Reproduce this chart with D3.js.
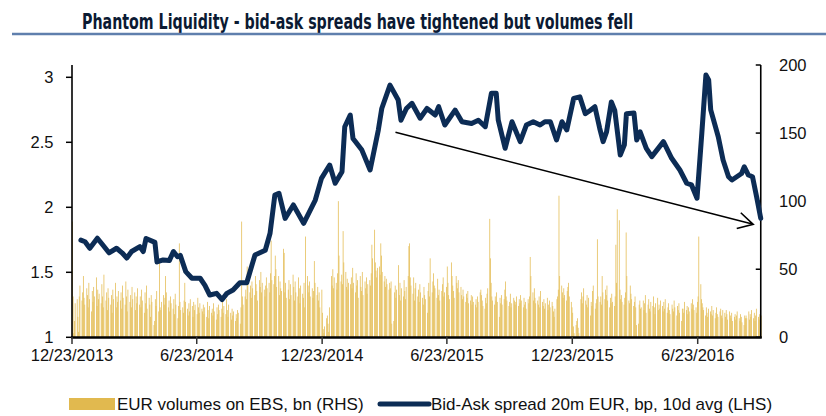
<!DOCTYPE html>
<html><head><meta charset="utf-8">
<script src="https://cdn.jsdelivr.net/npm/d3@7"></script>
<style>
html,body{margin:0;padding:0;background:#fff;}
svg{display:block;}
</style></head>
<body>
<svg id="chart" width="826" height="416"></svg>
<script>
const titleText = "Phantom Liquidity - bid-ask spreads have tightened but volumes fell";
const legendLabels = ["EUR volumes on EBS, bn (RHS)", "Bid-Ask spread 20m EUR, bp, 10d avg (LHS)"];
const xTickDates = ["2013-12-23","2014-06-23","2014-12-23","2015-06-23","2015-12-23","2016-06-23"];
const xTickLabels = ["12/23/2013","6/23/2014","12/23/2014","6/23/2015","12/23/2015","6/23/2016"];
const leftTicks = [1, 1.5, 2, 2.5, 3];
const leftTickLabels = ["1","1.5","2","2.5","3"];
const rightTicks = [0, 50, 100, 150, 200];

// Business-day volumes (bn), one row per month, from 2013-12-23 to 2016-09-23
const volStart = "2013-12-23", volEnd = "2016-09-23";
const volumes = [
 85,30,3,12,25,28,15,
 4,30,38,27,33,45,29,24,36,31,22,40,28,19,34,26,37,30,44,23,35,28,32,
 25,39,30,22,46,27,33,20,36,29,24,31,18,35,28,40,22,30,26,34,
 27,33,21,38,29,24,41,30,19,35,26,31,22,37,28,33,20,30,25,36,24,
 30,22,35,27,18,33,25,38,21,29,24,15,31,26,9,12,28,23,34,19,57,22,
 20,26,31,24,29,45,33,22,27,19,30,25,21,28,17,32,24,14,23,69,26,20,
 22,18,27,40,26,21,16,25,19,28,23,15,26,20,24,17,29,22,18,25,21,
 19,24,17,22,15,26,20,14,23,18,21,16,25,19,13,22,17,24,20,15,21,27,18,
 23,17,28,20,15,24,18,13,21,16,19,12,17,14,20,18,10,22,85,30,24,
 30,35,28,52,44,33,38,29,41,36,31,45,39,34,27,42,37,48,33,40,35,30,
 38,44,36,40,33,47,71,42,39,45,60,50,37,45,31,41,36,34,65,62,33,40,29,
 35,42,28,39,31,46,37,27,41,33,30,44,36,25,38,32,29,40,22,74,
 45,38,33,41,30,36,29,34,56,40,31,37,27,33,22,35,18,6,3,8,14,16,10,
 4,22,45,38,50,36,44,40,35,47,100,60,41,46,39,78,55,48,37,43,35,40,
 39,44,36,51,40,33,47,38,42,29,45,37,34,48,31,41,36,44,32,39,
 42,38,47,68,58,79,55,49,44,51,52,46,69,60,48,41,45,37,43,39,35,40,
 36,41,10,12,33,38,29,35,53,31,40,27,36,30,42,34,28,37,45,67,69,44,
 38,32,44,27,36,40,30,35,26,39,33,29,24,37,31,28,18,34,40,30,58,
 33,41,47,38,36,29,43,31,35,27,34,39,44,30,33,37,52,40,31,28,55,45,
 38,34,29,45,40,36,42,33,37,31,28,35,30,26,32,29,34,25,27,31,24,30,26,
 24,28,22,30,26,33,35,31,27,23,21,29,25,32,36,87,58,40,30,27,24,
 30,27,33,26,15,29,25,31,24,28,35,41,30,27,23,26,32,22,25,29,27,24,
 26,30,23,28,25,31,27,22,29,24,26,21,28,25,30,59,45,33,27,36,29,25,
 27,24,30,22,34,26,23,28,21,25,29,20,24,27,22,26,23,19,15,21,28,
 30,35,104,45,38,33,29,36,31,27,34,37,40,30,26,22,18,8,3,9,12,14,7,
 3,28,33,25,30,36,27,24,31,22,29,16,26,23,34,38,21,25,28,72,30,
 26,30,24,45,33,28,35,31,38,27,22,29,25,32,26,23,30,68,40,94,86,
 35,28,31,26,24,29,33,77,45,27,25,38,32,28,23,26,30,22,9,10,24,27,21,
 22,27,20,25,31,18,24,28,21,19,26,23,30,22,17,25,29,20,24,21,27,
 23,19,26,21,28,18,22,25,20,17,24,21,19,27,22,16,23,20,25,18,12,21,
 21,18,26,20,23,17,22,19,25,21,28,24,20,22,18,26,30,74,39,28,25,22,
 20,16,22,18,15,21,19,17,23,16,20,14,18,22,17,15,19,21,16,14,20,
 18,15,20,17,13,19,16,14,18,12,15,17,13,16,19,14,12,17,15,11,9,16,14,
 16,14,19,13,17,15,20,14,18,12,16,21,15,13,17,19,16
];

// Bid-ask spread, 10d avg (bp, LHS)
const spreadDates = [
 "2014-01-05","2014-01-11","2014-01-18","2014-01-29","2014-02-06","2014-02-15","2014-02-26","2014-03-06","2014-03-13","2014-03-20",
 "2014-04-01","2014-04-06","2014-04-10","2014-04-23","2014-04-26","2014-05-05","2014-05-14","2014-05-20","2014-05-26","2014-05-30",
 "2014-06-07","2014-06-16","2014-06-28","2014-07-05","2014-07-12","2014-07-22","2014-07-30","2014-08-06","2014-08-15","2014-08-25",
 "2014-09-04","2014-09-16","2014-10-01","2014-10-08","2014-10-15","2014-10-21","2014-10-30","2014-11-11","2014-11-26","2014-12-13",
 "2014-12-22","2015-01-03","2015-01-11","2015-01-21","2015-01-25","2015-02-02","2015-02-06","2015-02-19","2015-03-03","2015-03-15",
 "2015-03-20","2015-04-01","2015-04-13","2015-04-17","2015-04-25","2015-05-03","2015-05-15","2015-05-25","2015-06-06","2015-06-11",
 "2015-06-20","2015-07-05","2015-07-15","2015-07-29","2015-08-08","2015-08-18","2015-08-27","2015-09-03","2015-09-06","2015-09-16",
 "2015-09-26","2015-10-08","2015-10-17","2015-10-27","2015-11-06","2015-11-13","2015-11-21","2015-11-30","2015-12-08","2015-12-15",
 "2015-12-25","2016-01-03","2016-01-11","2016-01-18","2016-01-25","2016-02-01","2016-02-06","2016-02-11","2016-02-18","2016-02-23",
 "2016-03-02","2016-03-08","2016-03-11","2016-03-22","2016-03-26","2016-03-31","2016-04-09","2016-04-17","2016-05-04","2016-05-16",
 "2016-05-28","2016-06-07","2016-06-14","2016-06-22","2016-06-29","2016-07-05","2016-07-09","2016-07-12","2016-07-23","2016-07-30",
 "2016-08-07","2016-08-12","2016-08-19","2016-08-26","2016-08-30","2016-09-05","2016-09-11","2016-09-17","2016-09-23"
];
const spreadValues = [
 1.747,1.735,1.685,1.762,1.71,1.65,1.685,1.65,1.61,1.66,
 1.697,1.66,1.76,1.73,1.58,1.595,1.59,1.66,1.62,1.63,
 1.505,1.454,1.454,1.40,1.325,1.338,1.29,1.338,1.364,1.42,
 1.42,1.633,1.67,1.80,2.095,2.108,1.915,2.018,1.877,2.056,
 2.223,2.325,2.185,2.274,2.62,2.71,2.53,2.44,2.287,2.595,
 2.76,2.94,2.825,2.67,2.76,2.80,2.685,2.76,2.71,2.774,
 2.633,2.748,2.658,2.645,2.67,2.62,2.877,2.877,2.67,2.454,
 2.658,2.505,2.633,2.658,2.633,2.658,2.658,2.518,2.658,2.595,
 2.838,2.85,2.72,2.745,2.774,2.608,2.505,2.58,2.81,2.745,
 2.402,2.48,2.72,2.725,2.518,2.58,2.454,2.39,2.505,2.377,
 2.287,2.185,2.172,2.07,2.57,3.018,2.98,2.75,2.543,2.364,
 2.235,2.21,2.235,2.26,2.312,2.248,2.235,2.08,1.915
];

// Trend arrow annotation (date, LHS value)
const arrowDates = ["2015-04-09","2016-09-12"];
const arrowValues = [2.577, 1.869];

const parse = d3.utcParse("%Y-%m-%d");
const svg = d3.select("#chart");

const x = d3.scaleUtc().domain([parse(xTickDates[0]), parse(xTickDates[5])]).range([72, 697.7]);
const yL = d3.scaleLinear().domain([1, 3]).range([337.3, 77.3]);
const yR = d3.scaleLinear().domain([0, 200]).range([337.3, 65]);
const xEnd = x(parse(volEnd));

// Title
svg.append("text").attr("x", 82).attr("y", 28.5)
  .attr("font-family", "'Liberation Sans Narrow','DejaVu Sans Condensed','Liberation Sans',sans-serif")
  .attr("font-weight", "bold").attr("font-size", 21).attr("fill", "#0b1a33")
  .attr("textLength", 551).attr("lengthAdjust", "spacingAndGlyphs")
  .text(titleText);
svg.append("line").attr("x1", 12).attr("x2", 826).attr("y1", 34).attr("y2", 34)
  .attr("stroke", "#5f7fad").attr("stroke-width", 2.5);

// Bars
const allDays = d3.utcDay.range(parse(volStart), d3.utcDay.offset(parse(volEnd), 1))
  .filter(d => d.getUTCDay() !== 0 && d.getUTCDay() !== 6);
const barData = allDays.slice(0, volumes.length).map((d, i) => ({d, v: volumes[i]}));
svg.append("g").selectAll("rect").data(barData).join("rect")
  .attr("x", d => x(d.d))
  .attr("width", 0.8)
  .attr("y", d => yR(d.v))
  .attr("height", d => yR(0) - yR(d.v))
  .attr("fill", "#e5bf5a");

// Axes
const fontFam = "'Liberation Sans',Arial,sans-serif";
const axes = svg.append("g").attr("font-family", fontFam).attr("font-size", 16.5).attr("fill", "#111");
// left
axes.append("line").attr("x1", 72).attr("x2", 72).attr("y1", 65).attr("y2", 338).attr("stroke", "#000").attr("stroke-width", 1.6);
leftTicks.forEach((t, i) => {
  axes.append("line").attr("x1", 66).attr("x2", 72).attr("y1", yL(t)).attr("y2", yL(t)).attr("stroke", "#000").attr("stroke-width", 1.5);
  axes.append("text").attr("x", 53.5).attr("y", yL(t)).attr("dy", "0.36em").attr("text-anchor", "end").text(leftTickLabels[i]);
});
// right
axes.append("line").attr("x1", xEnd).attr("x2", xEnd).attr("y1", 65).attr("y2", 338).attr("stroke", "#000").attr("stroke-width", 1.6);
rightTicks.forEach(t => {
  axes.append("line").attr("x1", xEnd - 5).attr("x2", xEnd).attr("y1", yR(t)).attr("y2", yR(t)).attr("stroke", "#000").attr("stroke-width", 1.5);
  axes.append("text").attr("x", 779).attr("y", yR(t)).attr("dy", "0.36em").attr("text-anchor", "start").text(t);
});
// bottom
axes.append("line").attr("x1", 71).attr("x2", xEnd + 1).attr("y1", 337.5).attr("y2", 337.5).attr("stroke", "#000").attr("stroke-width", 2.5);
xTickDates.forEach((t, i) => {
  const px = x(parse(t));
  axes.append("line").attr("x1", px).attr("x2", px).attr("y1", 337).attr("y2", 344).attr("stroke", "#333").attr("stroke-width", 1.5);
  axes.append("text").attr("x", px).attr("y", 361).attr("text-anchor", "middle").text(xTickLabels[i]);
});

// Trend arrow
const ax0 = x(parse(arrowDates[0])), ay0 = yL(arrowValues[0]);
const ax1 = x(parse(arrowDates[1])), ay1 = yL(arrowValues[1]);
const ang = Math.atan2(ay1 - ay0, ax1 - ax0);
const hl = 17, ha = 0.5;
svg.append("path")
  .attr("d", `M${ax0},${ay0}L${ax1},${ay1}M${ax1 - hl*Math.cos(ang - ha)},${ay1 - hl*Math.sin(ang - ha)}L${ax1},${ay1}L${ax1 - hl*Math.cos(ang + ha)},${ay1 - hl*Math.sin(ang + ha)}`)
  .attr("fill", "none").attr("stroke", "#000").attr("stroke-width", 1.6);

// Spread line
const lineData = spreadDates.map((d, i) => ({d: parse(d), v: spreadValues[i]}));
svg.append("path").datum(lineData)
  .attr("d", d3.line().x(d => x(d.d)).y(d => yL(d.v)))
  .attr("fill", "none").attr("stroke", "#0c2c55").attr("stroke-width", 5)
  .attr("stroke-linejoin", "round").attr("stroke-linecap", "round");

// Legend
const lg = svg.append("g").attr("font-family", fontFam).attr("font-size", 17).attr("fill", "#111");
lg.append("rect").attr("x", 69).attr("y", 398).attr("width", 46).attr("height", 12).attr("fill", "#e1b94f");
lg.append("text").attr("x", 117).attr("y", 410).text(legendLabels[0]);
lg.append("line").attr("x1", 380).attr("x2", 429).attr("y1", 404).attr("y2", 404)
  .attr("stroke", "#0c2c55").attr("stroke-width", 5).attr("stroke-linecap", "round");
lg.append("text").attr("x", 431).attr("y", 410).text(legendLabels[1]);
</script>
</body></html>
